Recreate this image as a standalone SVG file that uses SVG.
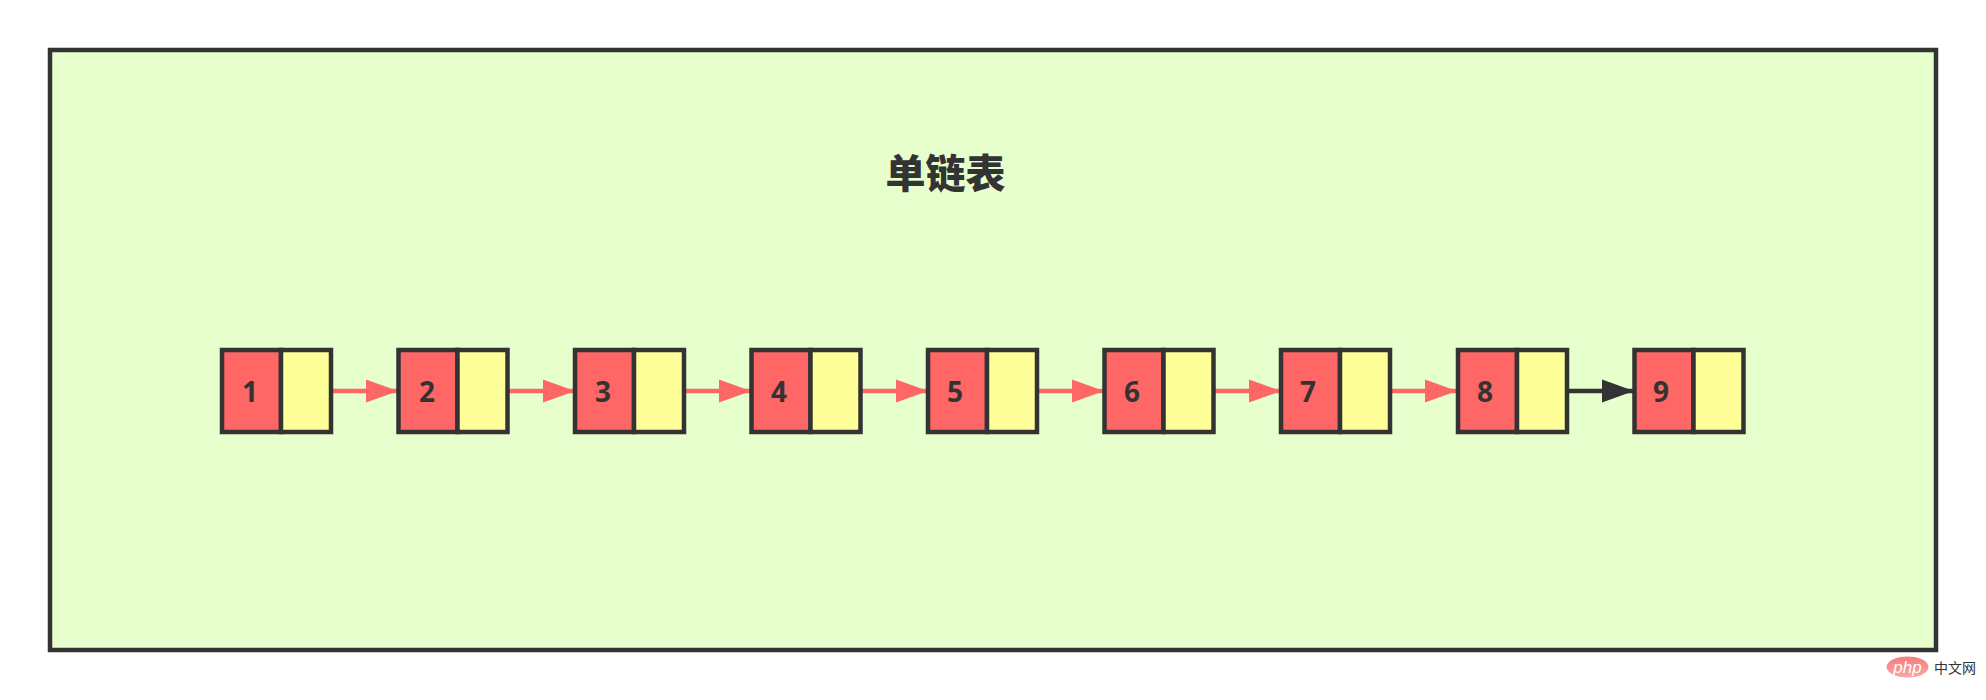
<svg xmlns="http://www.w3.org/2000/svg" width="1986" height="700" viewBox="0 0 1986 700">
<style>
.frame{fill:#e6ffcc;stroke:#333;stroke-width:4.500}
.red{fill:#ff6666;stroke:#333;stroke-width:4.500}
.yel{fill:#ffff99;stroke:#333;stroke-width:4.500}
.num{font:bold 28px "Noto Sans","Liberation Sans",sans-serif;fill:#333;text-anchor:middle}
.title{font:900 40px "Noto Sans CJK SC",sans-serif;fill:#333;text-anchor:middle}
.lr{stroke:#ff6666;stroke-width:4.500;fill:none;marker-end:url(#ar)}
.lk{stroke:#333;stroke-width:4.500;fill:none;marker-end:url(#ak)}
</style>
<defs>
<marker id="ar" markerUnits="userSpaceOnUse" markerWidth="34" markerHeight="24" refX="32" refY="12" orient="auto"><path d="M0 0.500L32 12L0 23.500Z" fill="#ff6666"/></marker>
<marker id="ak" markerUnits="userSpaceOnUse" markerWidth="34" markerHeight="24" refX="32" refY="12" orient="auto"><path d="M0 0.500L32 12L0 23.500Z" fill="#333"/></marker>
<linearGradient id="pg" x1="0" y1="0" x2="0" y2="1"><stop offset="0" stop-color="#f67c7c"/><stop offset="1" stop-color="#fba5a5"/></linearGradient>
</defs>
<rect id="frame" class="frame" x="50" y="50" width="1886" height="600"/>
<text id="title" class="title" x="945.500" y="188">单链表</text>
<g id="connectors">
<path class="lr" d="M331 391H398"/>
<path class="lr" d="M508 391H575"/>
<path class="lr" d="M684 391H751"/>
<path class="lr" d="M861 391H928"/>
<path class="lr" d="M1037 391H1104"/>
<path class="lr" d="M1214 391H1281"/>
<path class="lr" d="M1390 391H1457"/>
<path class="lk" d="M1567 391H1634"/>
</g>
<g id="node1"><rect class="red" x="222" y="350" width="59" height="82"/><rect class="yel" x="281" y="350" width="50" height="82"/><text class="num" x="250" y="402">1</text></g>
<g id="node2"><rect class="red" x="398.500" y="350" width="59" height="82"/><rect class="yel" x="457.500" y="350" width="50" height="82"/><text class="num" x="427" y="402">2</text></g>
<g id="node3"><rect class="red" x="575" y="350" width="59" height="82"/><rect class="yel" x="634" y="350" width="50" height="82"/><text class="num" x="603" y="402">3</text></g>
<g id="node4"><rect class="red" x="751.500" y="350" width="59" height="82"/><rect class="yel" x="810.500" y="350" width="50" height="82"/><text class="num" x="779" y="402">4</text></g>
<g id="node5"><rect class="red" x="928" y="350" width="59" height="82"/><rect class="yel" x="987" y="350" width="50" height="82"/><text class="num" x="955" y="402">5</text></g>
<g id="node6"><rect class="red" x="1104.500" y="350" width="59" height="82"/><rect class="yel" x="1163.500" y="350" width="50" height="82"/><text class="num" x="1132" y="402">6</text></g>
<g id="node7"><rect class="red" x="1281" y="350" width="59" height="82"/><rect class="yel" x="1340" y="350" width="50" height="82"/><text class="num" x="1308" y="402">7</text></g>
<g id="node8"><rect class="red" x="1458" y="350" width="59" height="82"/><rect class="yel" x="1517" y="350" width="50" height="82"/><text class="num" x="1485" y="402">8</text></g>
<g id="node9"><rect class="red" x="1634.500" y="350" width="59" height="82"/><rect class="yel" x="1693.500" y="350" width="50" height="82"/><text class="num" x="1661" y="402">9</text></g>
<g id="watermark">
<ellipse cx="1907.500" cy="667" rx="21" ry="10.500" fill="url(#pg)"/>
<text x="1907.500" y="672.500" font-family="'Liberation Sans',sans-serif" font-style="italic" font-size="17" fill="#fff" text-anchor="middle">php</text>
<text x="1934" y="673" font-family="'Noto Sans CJK SC',sans-serif" font-size="14" fill="#333">中文网</text>
</g>
</svg>
